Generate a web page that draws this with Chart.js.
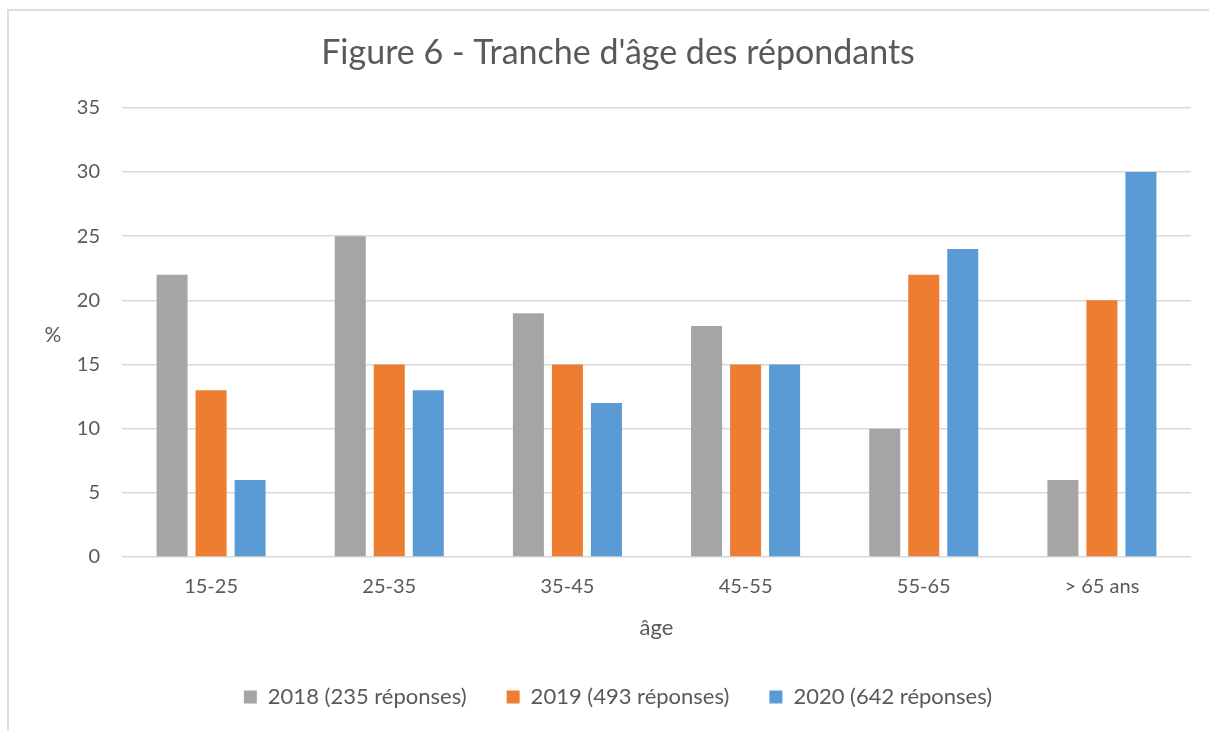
<!DOCTYPE html>
<html>
<head>
<meta charset="utf-8">
<script src="https://cdn.jsdelivr.net/npm/chart.js@4.4.1/dist/chart.umd.min.js"></script>
<style>
  html, body { margin: 0; padding: 0; background: #fff; }
  .frame { position: absolute; left: 7px; top: 9px; width: 1220px; height: 740px; border-left: 2px solid #dcdcdc; border-top: 2px solid #dcdcdc; }
  .wrap { position: absolute; left: 0; top: 0; width: 1209px; height: 731px; }
</style>
</head>
<body>
<div class="frame"></div>
<div class="wrap"><canvas id="ageChart"></canvas></div>
<script>
// Data
const categories = ['15-25', '25-35', '35-45', '45-55', '55-65', '> 65 ans'];
const values2018 = [22, 25, 19, 18, 10, 6];
const values2019 = [13, 15, 15, 15, 22, 20];
const values2020 = [6, 13, 12, 15, 24, 30];
const seriesLabels = ['2018 (235 réponses)', '2019 (493 réponses)', '2020 (642 réponses)'];

const TEXT = '#595959';
const FONT = 'Lato, "Open Sans", sans-serif';

// draws the horizontal "%" axis title left of the plot
const percentLabel = {
    id: 'percentLabel',
    afterDraw(chart) {
        const { ctx, chartArea } = chart;
        ctx.save();
        ctx.font = '21px ' + FONT;
        ctx.fillStyle = TEXT;
        ctx.textAlign = 'center';
        ctx.textBaseline = 'middle';
        ctx.fillText('%', chartArea.left - 69, (chartArea.top + chartArea.bottom) / 2 + 3);
        ctx.restore();
    }
};

function makeSet(label, data, color) {
    return {
        label: label,
        data: data,
        backgroundColor: color,
        borderWidth: 0,
        categoryPercentage: 0.657,
        barPercentage: 0.795
    };
}

const chart = new Chart(document.getElementById('ageChart'), {
    type: 'bar',
    data: {
        labels: categories,
        datasets: [
            makeSet(seriesLabels[0], values2018, '#A5A5A5'),
            makeSet(seriesLabels[1], values2019, '#ED7D31'),
            makeSet(seriesLabels[2], values2020, '#5B9BD5')
        ]
    },
    options: {
        responsive: true,
        maintainAspectRatio: false,
        animation: false,
        layout: { padding: { left: 45, right: 18, top: 20, bottom: 13 } },
        scales: {
            x: {
                grid: { display: false, drawTicks: false },
                border: { display: false },
                ticks: { color: TEXT, font: { family: FONT, size: 20 }, padding: 18 },
                title: { display: true, text: 'âge', color: TEXT, font: { family: FONT, size: 22 }, padding: { top: 0, bottom: 5 } },
                afterFit(scale) { scale.height = 89; }
            },
            y: {
                min: 0,
                max: 35,
                ticks: { stepSize: 5, color: TEXT, font: { family: FONT, size: 20 }, padding: 22 },
                grid: { color: '#D9D9D9', lineWidth: 1.5, drawTicks: false },
                border: { display: false },
                afterFit(scale) { scale.width = 77; }
            }
        },
        plugins: {
            title: {
                display: true,
                text: "Figure 6 - Tranche d'âge des répondants",
                color: TEXT,
                font: { family: FONT, size: 34, weight: 'normal' },
                padding: { top: 13, bottom: 34 }
            },
            legend: {
                position: 'bottom',
                labels: {
                    color: TEXT,
                    font: { family: FONT, size: 22 },
                    boxWidth: 13,
                    boxHeight: 13,
                    padding: 40
                }
            },
            tooltip: { enabled: false }
        }
    },
    plugins: [percentLabel]
});
</script>
</body>
</html>
